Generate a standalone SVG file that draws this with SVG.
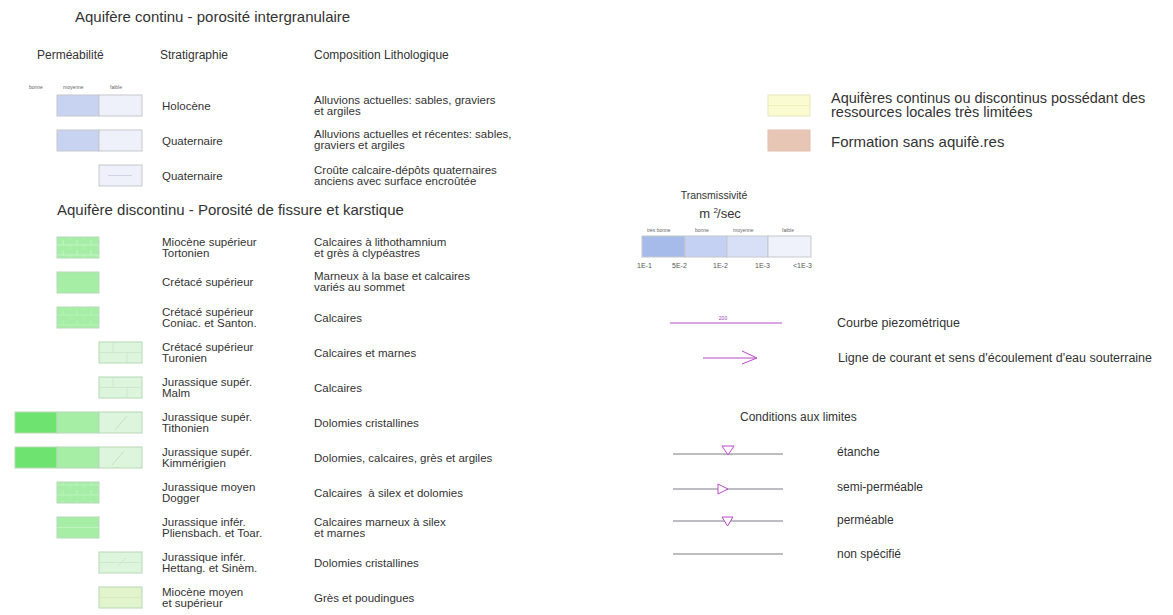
<svg xmlns="http://www.w3.org/2000/svg" width="1173" height="615" viewBox="0 0 1173 615">
<style>
text{font-family:"Liberation Sans",Arial,sans-serif;fill:#333}
.t15{font-size:15px}
.h{font-size:12px}
.b{font-size:11.5px}
.tiny{font-size:5px;fill:#666}
.sm{font-size:7px;fill:#555}
.cell{stroke:#c4c8cc;stroke-width:1}
.gcell{stroke:#b8d8b8;stroke-width:1}
.bm{fill:#c8d3f2}.bf{fill:#eef0fa}
.gm{fill:#a6eea6}.gd{fill:#6fe36f}.gl{fill:#dcf5dc}.gy{fill:#e2f4cc}
.pl{stroke:#b848c8;stroke-width:1;fill:none}
.gl2{stroke:#807888;stroke-width:1}
.tri{stroke:#b848c8;stroke-width:1;fill:#fff}
</style>
<defs>
<pattern id="brick" width="14" height="10" patternUnits="userSpaceOnUse"><path d="M0 5H14M7 0V5M0 5V10" stroke="#ffffff" stroke-opacity="0.3" stroke-width="1" fill="none"/></pattern>
</defs>
<rect width="1173" height="615" fill="#fff"/>

<g id="header">
<text class="t15" x="75" y="22">Aquifère continu - porosité intergranulaire</text>
<text class="h" x="37" y="59">Perméabilité</text>
<text class="h" x="160" y="59">Stratigraphie</text>
<text class="h" x="314" y="59">Composition Lithologique</text>
<text class="tiny" x="29" y="89">bonne</text>
<text class="tiny" x="63" y="89">moyenne</text>
<text class="tiny" x="110" y="89">faible</text>
</g>

<g id="holocene">
<rect class="cell bm" x="57" y="95" width="42" height="21"/>
<rect class="cell bf" x="99" y="95" width="43" height="21"/>
<text class="b" x="162" y="110">Holocène</text>
<text class="b" x="314" y="104">Alluvions actuelles: sables, graviers</text>
<text class="b" x="314" y="115">et argiles</text>
</g>
<g id="quaternaire1">
<rect class="cell bm" x="57" y="130" width="42" height="21"/>
<rect class="cell bf" x="99" y="130" width="43" height="21"/>
<text class="b" x="162" y="145">Quaternaire</text>
<text class="b" x="314" y="138">Alluvions actuelles et récentes: sables,</text>
<text class="b" x="314" y="149">graviers et argiles</text>
</g>
<g id="quaternaire2">
<rect class="cell bf" x="99" y="165" width="43" height="21"/>
<line x1="108" y1="175.5" x2="132" y2="175.5" stroke="#c8cce0" stroke-width="0.8"/>
<text class="b" x="162" y="180">Quaternaire</text>
<text class="b" x="314" y="174">Croûte calcaire-dépôts quaternaires</text>
<text class="b" x="314" y="185">anciens avec surface encroûtée</text>
</g>

<text class="t15" x="57" y="215">Aquifère discontinu - Porosité de fissure et karstique</text>

<g id="miocene-sup">
<rect class="gcell gm" x="57" y="237" width="42" height="21"/>
<rect x="57" y="237" width="42" height="21" fill="url(#brick)"/>
<text class="b" x="162" y="246">Miocène supérieur</text>
<text class="b" x="162" y="257">Tortonien</text>
<text class="b" x="314" y="246">Calcaires à lithothamnium</text>
<text class="b" x="314" y="257">et grès à clypéastres</text>
</g>
<g id="cretace-sup">
<rect class="gcell gm" x="57" y="272" width="42" height="21"/>
<text class="b" x="162" y="286">Crétacé supérieur</text>
<text class="b" x="314" y="280">Marneux à la base et calcaires</text>
<text class="b" x="314" y="291">variés au sommet</text>
</g>
<g id="cretace-coniac">
<rect class="gcell gm" x="57" y="307" width="42" height="21"/>
<rect x="57" y="307" width="42" height="21" fill="url(#brick)" opacity="0.6"/>
<text class="b" x="162" y="316">Crétacé supérieur</text>
<text class="b" x="162" y="327">Coniac. et Santon.</text>
<text class="b" x="314" y="322">Calcaires</text>
</g>
<g id="cretace-turonien">
<rect class="gcell gl" x="99" y="342" width="43" height="21"/>
<path d="M99 352.5H142M113 342V352.5M127 352.5V363" stroke="#c8e6c8" stroke-width="0.8" fill="none"/>
<text class="b" x="162" y="351">Crétacé supérieur</text>
<text class="b" x="162" y="362">Turonien</text>
<text class="b" x="314" y="357">Calcaires et marnes</text>
</g>
<g id="jurassique-malm">
<rect class="gcell gl" x="99" y="377" width="43" height="21"/>
<path d="M99 387.5H142M113 377V387.5M127 387.5V398" stroke="#c8e6c8" stroke-width="0.8" fill="none"/>
<text class="b" x="162" y="386">Jurassique supér.</text>
<text class="b" x="162" y="397">Malm</text>
<text class="b" x="314" y="392">Calcaires</text>
</g>
<g id="jurassique-tithonien">
<rect class="gcell gd" x="15" y="412" width="42" height="21"/>
<rect class="gcell gm" x="57" y="412" width="42" height="21"/>
<rect class="gcell gl" x="99" y="412" width="43" height="21"/>
<line x1="115" y1="430" x2="127" y2="416" stroke="#bcdcbc" stroke-width="0.8"/>
<text class="b" x="162" y="421">Jurassique supér.</text>
<text class="b" x="162" y="432">Tithonien</text>
<text class="b" x="314" y="427">Dolomies cristallines</text>
</g>
<g id="jurassique-kimmerigien">
<rect class="gcell gd" x="15" y="447" width="42" height="21"/>
<rect class="gcell gm" x="57" y="447" width="42" height="21"/>
<rect class="gcell gl" x="99" y="447" width="43" height="21"/>
<line x1="112" y1="465" x2="124" y2="451" stroke="#bcdcbc" stroke-width="0.8"/>
<text class="b" x="162" y="456">Jurassique supér.</text>
<text class="b" x="162" y="467">Kimmérigien</text>
<text class="b" x="314" y="462">Dolomies, calcaires, grès et argiles</text>
</g>
<g id="jurassique-dogger">
<rect class="gcell gm" x="57" y="482" width="42" height="21"/>
<rect x="57" y="482" width="42" height="21" fill="url(#brick)" opacity="0.7"/>
<text class="b" x="162" y="491">Jurassique moyen</text>
<text class="b" x="162" y="502">Dogger</text>
<text class="b" x="314" y="497" style="white-space:pre">Calcaires  à silex et dolomies</text>
</g>
<g id="jurassique-pliensbach">
<rect class="gcell gm" x="57" y="517" width="42" height="21"/>
<line x1="57" y1="527.5" x2="99" y2="527.5" stroke="#ffffff" stroke-opacity="0.3"/>
<text class="b" x="162" y="526">Jurassique infér.</text>
<text class="b" x="162" y="537">Pliensbach. et Toar.</text>
<text class="b" x="314" y="526">Calcaires marneux à silex</text>
<text class="b" x="314" y="537">et marnes</text>
</g>
<g id="jurassique-hettang">
<rect class="gcell gl" x="99" y="552" width="43" height="21"/>
<path d="M99 562.5H142M118 566L126 558" stroke="#c8e6c8" stroke-width="0.8" fill="none"/>
<text class="b" x="162" y="561">Jurassique infér.</text>
<text class="b" x="162" y="572">Hettang. et Sinèm.</text>
<text class="b" x="314" y="567">Dolomies cristallines</text>
</g>
<g id="miocene-moyen">
<rect class="gcell gy" x="99" y="587" width="43" height="21" stroke="#cfe0bc"/>
<line x1="99" y1="597.5" x2="142" y2="597.5" stroke="#d4e6bc" stroke-width="0.8"/>
<text class="b" x="162" y="596">Miocène moyen</text>
<text class="b" x="162" y="607">et supérieur</text>
<text class="b" x="314" y="602">Grès et poudingues</text>
</g>

<g id="aquiferes-limites">
<rect x="768" y="95" width="42" height="21" fill="#fbfbd2" stroke="#e6e6c0"/>
<line x1="768" y1="105.5" x2="810" y2="105.5" stroke="#eeeebb" stroke-width="0.8"/>
<text x="831" y="103" font-size="14.5">Aquifères continus ou discontinus possédant des</text>
<text x="831" y="117" font-size="14.5">ressources locales très limitées</text>
</g>
<g id="formation-sans">
<rect x="768" y="130" width="42" height="21" fill="#e8c6b6" stroke="#e0c0b0"/>
<text class="t15" x="831" y="147">Formation sans aquifè.res</text>
</g>

<g id="transmissivite">
<text x="714" y="199" font-size="10.5" text-anchor="middle">Transmissivité</text>
<text x="720" y="218" font-size="13" text-anchor="middle">m <tspan font-size="8" dy="-5">2</tspan><tspan dx="-1" dy="5">/sec</tspan></text>
<text class="tiny" x="647" y="232">très bonne</text>
<text class="tiny" x="695" y="232">bonne</text>
<text class="tiny" x="733" y="232">moyenne</text>
<text class="tiny" x="782" y="232">faible</text>
<rect class="cell" x="642" y="236" width="43" height="21" fill="#a6bbea"/>
<rect class="cell" x="685" y="236" width="42" height="21" fill="#c4d1f2"/>
<rect class="cell" x="727" y="236" width="41" height="21" fill="#d8e0f7"/>
<rect class="cell" x="768" y="236" width="43" height="21" fill="#eff2fb"/>
<text class="sm" x="637" y="268">1E-1</text>
<text class="sm" x="672" y="268">5E-2</text>
<text class="sm" x="713" y="268">1E-2</text>
<text class="sm" x="755" y="268">1E-3</text>
<text class="sm" x="793" y="268">&lt;1E-3</text>
</g>

<g id="connectors">
<g id="courbe">
<line class="pl" x1="670" y1="323" x2="782" y2="323"/>
<text x="723" y="320" font-size="5" style="fill:#a040b0" text-anchor="middle">200</text>
</g>
<g id="ligne-courant">
<line class="pl" x1="703" y1="358" x2="756" y2="358"/>
<polyline class="pl" points="742,351 757,358 742,364"/>
</g>
<g id="etanche">
<line class="gl2" x1="673" y1="454" x2="783" y2="454"/>
<polygon class="tri" points="722,446 734,446 728,455"/>
</g>
<g id="semi-permeable">
<line class="gl2" x1="673" y1="489" x2="783" y2="489"/>
<polygon class="tri" points="718,484 718,494 728,489"/>
</g>
<g id="permeable">
<line class="gl2" x1="673" y1="521" x2="783" y2="521"/>
<polygon class="tri" points="722,517 733,517 727.5,526"/>
</g>
<g id="non-specifie">
<line class="gl2" x1="673" y1="554" x2="783" y2="554"/>
</g>
</g>

<g id="labels-right">
<text x="837" y="327" font-size="12.5">Courbe piezométrique</text>
<text x="838" y="362" font-size="12.5">Ligne de courant et sens d'écoulement d'eau souterraine</text>
<text x="740" y="421" font-size="12">Conditions aux limites</text>
<text x="837" y="456" font-size="12">étanche</text>
<text x="837" y="491" font-size="12">semi-perméable</text>
<text x="837" y="524" font-size="12">perméable</text>
<text x="837" y="558" font-size="12">non spécifié</text>
</g>
</svg>
